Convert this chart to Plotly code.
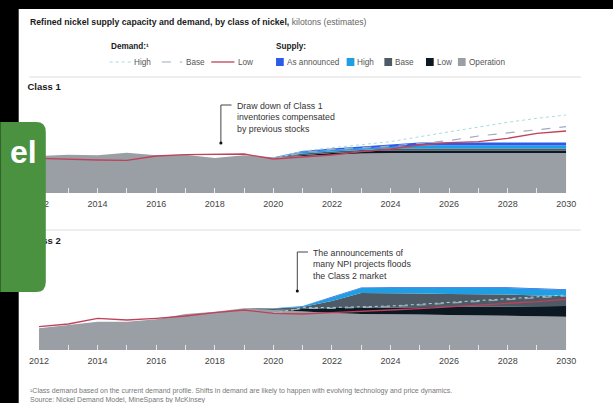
import plotly.graph_objects as go

W, H = 613, 403
FONT = "Liberation Sans, Arial, sans-serif"

years = list(range(2012, 2031))
tick_labels = [str(y) if y % 2 == 0 else "" for y in years]

# ---- Class 1 supply capacity (kilotons, stacked layers) ----
c1_operation = [925, 958, 943, 1008, 943, 958, 875, 943, 893, 925, 963, 988, 1000, 1000, 1000, 1000, 1000, 1000, 1000]
c1_low       = [0, 0, 0, 0, 0, 0, 0, 0, 0, 25, 38, 50, 63, 63, 63, 63, 63, 63, 63]
c1_base      = [0, 0, 0, 0, 0, 0, 0, 0, 0, 38, 38, 38, 50, 50, 50, 50, 50, 50, 50]
c1_high      = [0, 0, 0, 0, 0, 0, 0, 0, 0, 38, 38, 38, 50, 75, 75, 75, 75, 75, 75]
c1_announced = [0, 0, 0, 0, 0, 0, 0, 0, 0, 25, 38, 50, 63, 75, 75, 75, 75, 75, 75]

# ---- Class 1 demand (kilotons) ----
c1_demand_low  = [868, 843, 825, 818, 925, 958, 975, 975, 850, 893, 950, 1033, 1100, 1200, 1258, 1283, 1368, 1493, 1550]
c1_demand_base = [None] * 8 + [850, 1008, 1093, 1133, 1175, 1243, 1308, 1425, 1508, 1593, 1658]
c1_demand_high = [None] * 8 + [850, 1050, 1133, 1200, 1283, 1408, 1533, 1658, 1768, 1868, 1950]

# ---- Class 2 supply capacity (kilotons, stacked layers) ----
c2_operation = [543, 625, 708, 708, 768, 900, 958, 1043, 1000, 950, 925, 900, 900, 888, 875, 863, 850, 838, 833]
c2_low       = [0, 0, 0, 0, 0, 0, 0, 0, 0, 75, 125, 150, 163, 175, 200, 225, 238, 250, 268]
c2_base      = [0, 0, 0, 0, 0, 0, 0, 0, 38, 50, 175, 375, 363, 350, 325, 313, 300, 275, 250]
c2_high      = [0, 0, 0, 0, 0, 0, 0, 0, 8, 25, 88, 125, 125, 138, 150, 150, 163, 163, 150]
c2_announced = [0, 0, 0, 0, 0, 0, 0, 0, 0, 0, 13, 15, 15, 15, 15, 15, 15, 15, 15]

# ---- Class 2 demand (kilotons) ----
c2_demand_low  = [583, 650, 793, 750, 793, 850, 933, 1000, 918, 900, 933, 975, 1000, 1033, 1083, 1125, 1168, 1208, 1268]
c2_demand_base = [None] * 8 + [918, 1043, 1043, 1058, 1083, 1125, 1168, 1208, 1250, 1293, 1350]
c2_demand_high = [None] * 8 + [918, 1058, 1063, 1075, 1100, 1143, 1188, 1225, 1268, 1313, 1375]

supply_names = ["Operation", "Low", "Base", "High", "As announced"]
supply_colors = ["#9a9fa6", "#0c1822", "#4e5a66", "#1f9ee3", "#2b5ce8"]
demand_names = ["High", "Base", "Low"]
demand_styles = [("#a6dcdc", 1.0, "dot"), ("#9eabbd", 1.2, "dash"), ("#c0415a", 1.3, "solid")]

panel_labels = ["Class 1", "Class 2"]
note1 = ["Draw down of Class 1", "inventories compensated", "by previous stocks"]
note2 = ["The announcements of", "many NPI projects floods", "the Class 2 market"]
footnotes = ["¹Class demand based on the current demand profile. Shifts in demand are likely to happen with evolving technology and price dynamics.",
             "Source: Nickel Demand Model, MineSpans by McKinsey"]


def px(x):
    return x / W


def py(y):
    return 1 - y / H


fig = go.Figure()

panels = [
    ("x", "y", [c1_operation, c1_low, c1_base, c1_high, c1_announced],
     [c1_demand_high, c1_demand_base, c1_demand_low], "c1"),
    ("x2", "y2", [c2_operation, c2_low, c2_base, c2_high, c2_announced],
     [c2_demand_high, c2_demand_base, c2_demand_low], "c2"),
]
for xa, ya, supply, demand, grp in panels:
    for name, vals, col in zip(supply_names, supply, supply_colors):
        fig.add_trace(go.Scatter(
            x=years, y=vals, name=name, stackgroup=grp, mode="lines",
            line=dict(width=0, color=col), fillcolor=col,
            xaxis=xa, yaxis=ya, hoverinfo="skip", showlegend=False))
    for name, vals, (col, wd, dash) in zip(demand_names, demand, demand_styles):
        fig.add_trace(go.Scatter(
            x=years, y=vals, name=name, mode="lines",
            line=dict(color=col, width=wd, dash=dash),
            xaxis=xa, yaxis=ya, hoverinfo="skip", showlegend=False))

# panel labels drawn as trace text on a pixel overlay axis (sits below the green tab)
fig.add_trace(go.Scatter(
    x=[18, 18], y=[88, 242], text=["<b>%s</b>" % t for t in panel_labels],
    mode="text", textposition="middle right",
    textfont=dict(size=9.5, color="#1a1a1a", family=FONT),
    xaxis="x3", yaxis="y3", hoverinfo="skip", showlegend=False))

xaxis_common = dict(
    range=[2012, 2030], tickmode="array", tickvals=years, ticktext=tick_labels,
    ticks="inside", ticklen=5, tickwidth=1, tickcolor="rgba(255,255,255,0.75)",
    showgrid=False, zeroline=False, showline=False, fixedrange=True,
    tickfont=dict(size=9, color="#444", family=FONT), ticklabelstandoff=4,
)

fig.update_layout(
    width=W, height=H, autosize=False,
    margin=dict(l=0, r=0, t=0, b=0, pad=0),
    paper_bgcolor="white", plot_bgcolor="rgba(0,0,0,0)", showlegend=False,
    font=dict(family=FONT, color="#333"),
    xaxis=dict(domain=[px(30), px(575)], anchor="y", **xaxis_common),
    yaxis=dict(domain=[py(193), py(95)], range=[0, 2450], visible=False, fixedrange=True),
    xaxis2=dict(domain=[px(30), px(575)], anchor="y2", **xaxis_common),
    yaxis2=dict(domain=[py(350), py(240)], range=[0, 2750], visible=False, fixedrange=True),
    xaxis3=dict(domain=[0, 1], range=[0, W], visible=False, anchor="y3", fixedrange=True),
    yaxis3=dict(domain=[0, 1], range=[H, 0], visible=False, anchor="x3", fixedrange=True),
)

shapes = []
# black screenshot frame at top and left
shapes.append(dict(type="rect", xref="paper", yref="paper", x0=-0.05, x1=1.05, y0=py(9), y1=1.05,
                   fillcolor="black", line=dict(width=0)))
shapes.append(dict(type="rect", xref="paper", yref="paper", x0=-0.05, x1=px(9), y0=-0.05, y1=1.05,
                   fillcolor="black", line=dict(width=0)))
# separators
for yy in (77, 230):
    shapes.append(dict(type="line", xref="paper", yref="paper", x0=px(20), x1=px(590),
                       y0=py(yy), y1=py(yy), line=dict(color="#dddddd", width=1)))
# demand legend lines
for (x0, x1), (col, wd, dash) in zip([(103, 125), (157, 178), (208, 232)], demand_styles):
    shapes.append(dict(type="line", xref="paper", yref="paper", x0=px(x0), x1=px(x1),
                       y0=py(62), y1=py(62), line=dict(color=col, width=wd, dash=dash)))
# supply legend squares
sq_x = [275, 348, 387, 430, 463]
legend_supply_order = ["As announced", "High", "Base", "Low", "Operation"]
for x0, nm in zip(sq_x, legend_supply_order):
    col = supply_colors[supply_names.index(nm)]
    shapes.append(dict(type="rect", xref="paper", yref="paper", x0=px(x0), x1=px(x0 + 8),
                       y0=py(66), y1=py(58), fillcolor=col, line=dict(width=0)))
# annotation leaders
for (hx, hy, ex, vy) in [(218, 105, 229, 143), (297, 252, 308, 291)]:
    shapes.append(dict(type="line", xref="paper", yref="paper", x0=px(hx), x1=px(ex),
                       y0=py(hy), y1=py(hy), line=dict(color="#444", width=1)))
    shapes.append(dict(type="line", xref="paper", yref="paper", x0=px(hx), x1=px(hx),
                       y0=py(hy), y1=py(vy), line=dict(color="#444", width=1)))
    shapes.append(dict(type="circle", xref="paper", yref="paper", x0=px(hx - 1.6), x1=px(hx + 1.6),
                       y0=py(vy + 1.6), y1=py(vy - 1.6), fillcolor="#111", line=dict(width=0)))
# green tab overlay
pts = [(-10, 122), (27, 122), (37, 122), (37, 132), (37, 282), (37, 292), (27, 292), (-10, 292)]
P = [(px(a), py(b)) for a, b in pts]
path = ("M %f,%f L %f,%f Q %f,%f %f,%f L %f,%f Q %f,%f %f,%f L %f,%f Z" %
        (P[0] + P[1] + P[2] + P[3] + P[4] + P[5] + P[6] + P[7]))
shapes.append(dict(type="path", xref="paper", yref="paper", path=path,
                   fillcolor="#4a9140", line=dict(width=0)))
fig.update_layout(shapes=shapes)

ann = []


def text(x, y, s, size=8.5, color="#333", xanchor="left", yanchor="middle", align="left"):
    ann.append(dict(xref="paper", yref="paper", x=px(x), y=py(y), text=s, showarrow=False,
                    xanchor=xanchor, yanchor=yanchor, align=align,
                    font=dict(size=size, color=color, family=FONT)))


text(19, 22, "<span style='color:#1a1a1a'><b>Refined nickel supply capacity and demand, by class of nickel,</b></span> kilotons (estimates)",
     size=8.7, color="#666")
text(102, 47, "<b>Demand:¹</b>", size=8.2, color="#1a1a1a")
text(273, 47, "<b>Supply:</b>", size=8.2, color="#1a1a1a")
for x0, nm in zip([126, 180, 234], demand_names):
    text(x0, 62, nm, size=8.2, color="#555")
for x0, nm in zip(sq_x, legend_supply_order):
    text(x0 + 9, 62, nm, size=8.2, color="#555")
text(233, 98.5, "<br>".join(note1), size=8.8, color="#333", yanchor="top")
text(311, 245.5, "<br>".join(note2), size=8.8, color="#333", yanchor="top")
text(19, 384.5, "<br>".join(footnotes), size=7, color="#777", yanchor="top")
# overlay tab text
text(30, 152, "<b>el</b>", size=32, color="white", xanchor="right")
fig.update_layout(annotations=ann)

fig.write_html("out.html")
